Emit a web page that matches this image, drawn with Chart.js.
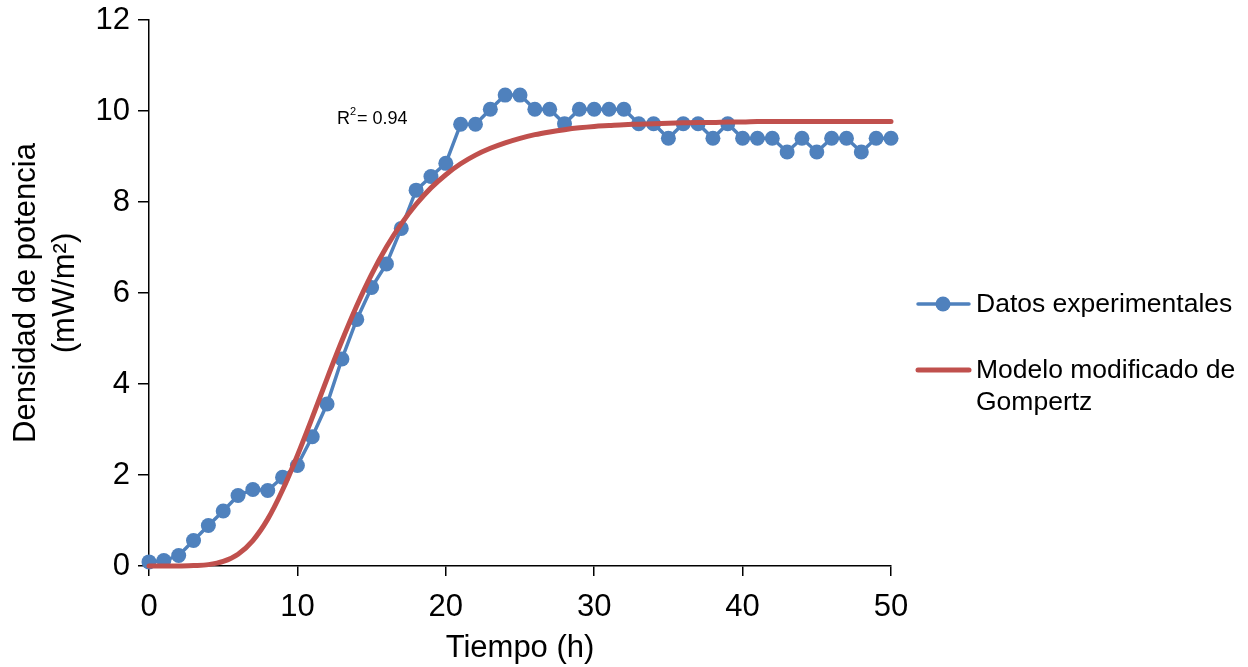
<!DOCTYPE html>
<html>
<head>
<meta charset="utf-8">
<script src="https://cdn.jsdelivr.net/npm/chart.js@4"></script>
<style>
  html, body { margin: 0; padding: 0; background: #fff; }
  #wrap { width: 1248px; height: 667px; }
</style>
</head>
<body>
<div id="wrap"><canvas id="chart" width="1248" height="667"></canvas></div>
<script>
// hours (x values)
const hours = [0,1,2,3,4,5,6,7,8,9,10,11,12,13,14,15,16,17,18,19,20,21,22,23,24,25,
  26,27,28,29,30,31,32,33,34,35,36,37,38,39,40,41,42,43,44,45,46,47,48,49,50];

// measured power density (mW/m2)
const experimental = [0.09,0.12,0.23,0.56,0.89,1.21,1.55,1.68,1.66,1.95,2.21,2.84,3.56,4.55,5.42,6.12,6.64,
  7.42,8.26,8.56,8.85,9.71,9.71,10.04,10.35,10.35,10.04,10.04,9.72,10.04,10.04,10.04,10.04,9.72,9.72,
  9.40,9.72,9.72,9.40,9.72,9.40,9.40,9.40,9.10,9.40,9.10,9.40,9.40,9.10,9.40,9.40];

// modified Gompertz fit
const gompertz = [0,0,0,0.01,0.03,0.10,0.26,0.56,1.03,1.67,2.43,3.26,4.12,4.95,5.72,6.41,7.01,
  7.52,7.95,8.31,8.60,8.84,9.03,9.18,9.30,9.40,9.48,9.54,9.59,9.63,9.66,9.68,9.70,9.71,9.72,
  9.73,9.74,9.75,9.75,9.76,9.76,9.77,9.77,9.77,9.77,9.77,9.77,9.77,9.77,9.77,9.77];

const xTicks = [0, 10, 20, 30, 40, 50];
const yTicks = [0, 2, 4, 6, 8, 10, 12];

const blue = '#4F81BD';
const red = '#C0504D';
const font = '"Liberation Sans", Arial, sans-serif';

const toPoints = (ys) => hours.map((h, i) => ({ x: h, y: ys[i] }));

// legend + R2 label drawn on the canvas
const extras = {
  id: 'extras',
  afterDraw(chart) {
    const ctx = chart.ctx;
    ctx.save();
    ctx.textBaseline = 'middle';
    ctx.textAlign = 'left';
    ctx.fillStyle = '#000';

    // R2 annotation
    ctx.font = '18px ' + font;
    ctx.fillText('R', 337, 119);
    ctx.font = '11px ' + font;
    ctx.fillText('2', 350, 112);
    ctx.font = '18px ' + font;
    ctx.fillText('= 0.94', 357, 119);

    // legend
    ctx.lineCap = 'round';
    ctx.strokeStyle = blue;
    ctx.lineWidth = 3.5;
    ctx.beginPath(); ctx.moveTo(918, 304); ctx.lineTo(969, 304); ctx.stroke();
    ctx.fillStyle = blue;
    ctx.beginPath(); ctx.arc(943, 304, 7.5, 0, Math.PI * 2); ctx.fill();

    ctx.strokeStyle = red;
    ctx.lineWidth = 5;
    ctx.beginPath(); ctx.moveTo(918, 370); ctx.lineTo(969, 370); ctx.stroke();

    ctx.fillStyle = '#000';
    ctx.font = '26.5px ' + font;
    ctx.fillText('Datos experimentales', 976, 305);
    ctx.fillText('Modelo modificado de', 976, 371);
    ctx.fillText('Gompertz', 976, 403);
    ctx.restore();
  }
};

new Chart(document.getElementById('chart'), {
  type: 'line',
  data: {
    datasets: [
      {
        label: 'Datos experimentales',
        data: toPoints(experimental),
        borderColor: blue,
        backgroundColor: blue,
        borderWidth: 3.5,
        pointRadius: 7.5,
        pointBorderWidth: 0,
        pointBackgroundColor: blue,
        tension: 0,
        clip: false,
        order: 1
      },
      {
        label: 'Modelo modificado de Gompertz',
        data: toPoints(gompertz),
        borderColor: red,
        borderWidth: 5,
        pointRadius: 0,
        cubicInterpolationMode: 'monotone',
        borderCapStyle: 'round',
        clip: false,
        order: 0
      }
    ]
  },
  options: {
    responsive: false,
    animation: false,
    layout: { padding: { top: 20, right: 357, bottom: 0, left: 0 } },
    plugins: { legend: { display: false }, tooltip: { enabled: false } },
    scales: {
      x: {
        type: 'linear',
        min: 0,
        max: 50,
        afterBuildTicks: (scale) => { scale.ticks = xTicks.map(v => ({ value: v })); },
        afterFit: (scale) => { scale.height = 101; },
        border: { display: true, color: '#000', width: 1.5 },
        grid: { display: true, drawOnChartArea: false, drawTicks: true, tickLength: 10, color: '#000', lineWidth: 1.5 },
        ticks: { color: '#000', font: { family: font, size: 31 }, padding: 13, maxRotation: 0 },
        title: { display: true, text: 'Tiempo (h)', color: '#000', font: { family: font, size: 31 }, padding: { top: 0, bottom: 0 } }
      },
      y: {
        min: 0,
        max: 12,
        afterBuildTicks: (scale) => { scale.ticks = yTicks.map(v => ({ value: v })); },
        afterFit: (scale) => { scale.width = 149; scale.paddingTop = 0; },
        border: { display: true, color: '#000', width: 1.5 },
        grid: { display: true, drawOnChartArea: false, drawTicks: true, tickLength: 11, color: '#000', lineWidth: 1.5 },
        ticks: { color: '#000', font: { family: font, size: 31 }, padding: 8 },
        title: { display: true, text: ['Densidad de potencia', '(mW/m\u00B2)'], color: '#000',
          font: { family: font, size: 31, lineHeight: 1.25 }, padding: { top: 7, bottom: 0 } }
      }
    }
  },
  plugins: [extras]
});
</script>
</body>
</html>
